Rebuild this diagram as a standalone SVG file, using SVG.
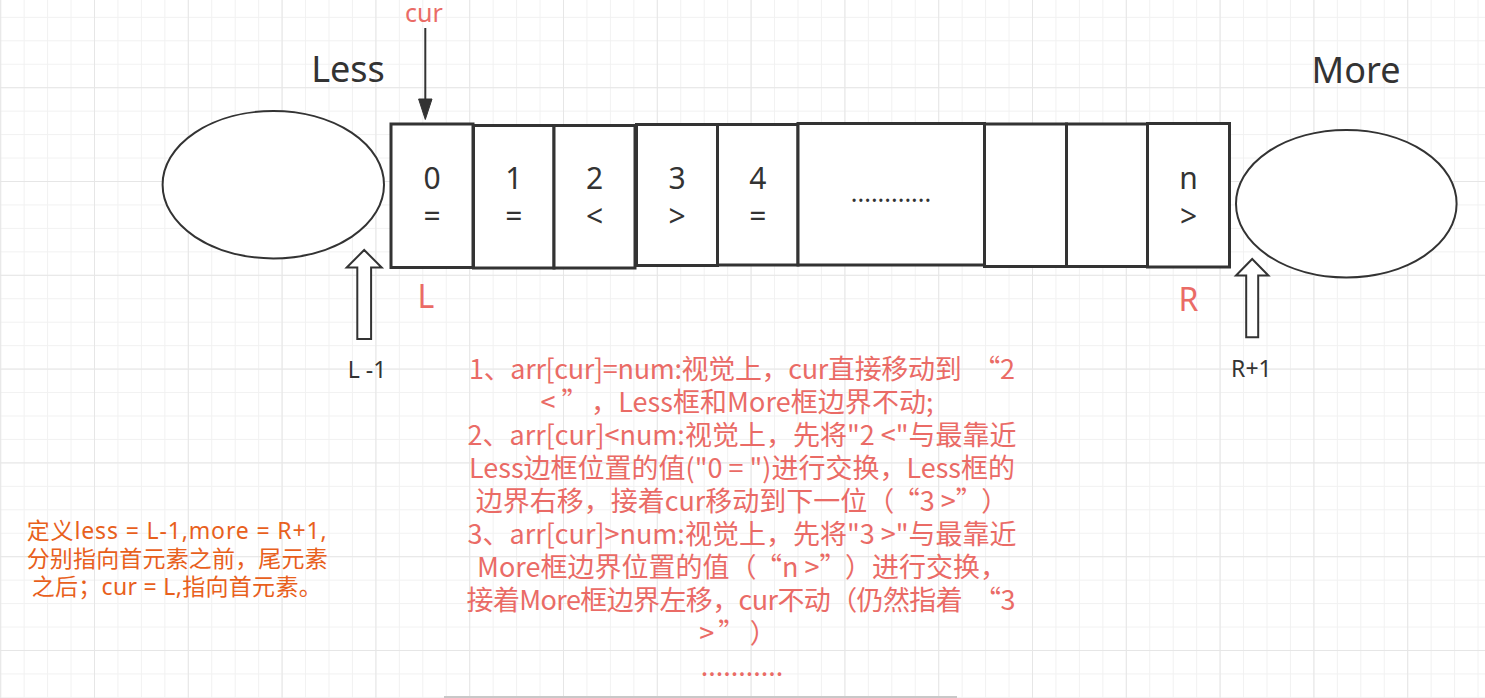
<svg xmlns="http://www.w3.org/2000/svg" width="1485" height="698" viewBox="0 0 1485 698">
<style>
.sh{fill:#ffffff;stroke:#333333;stroke-width:2}
.cell{fill:#ffffff;stroke:#333333;stroke-width:3}
.t{font-family:"Noto Sans","Noto Sans CJK SC",sans-serif;fill:#333333;text-anchor:middle}
.red{font-family:"Noto Sans","Noto Sans CJK SC",sans-serif;fill:#EA6B66;text-anchor:middle}
.cn{font-family:"Noto Sans CJK SC","Noto Sans",sans-serif;fill:#EA6B66;text-anchor:middle;font-size:27px}
.or{font-family:"Noto Sans","Noto Sans CJK SC",sans-serif;fill:#E8601C;font-size:23px}
.cv{font-size:30px}
</style>
<defs>
<pattern id="minor" patternUnits="userSpaceOnUse" x="0.2" y="16.85" width="23.45" height="23.45">
<rect x="0" y="0" width="23.45" height="1" fill="#f1f1f1"/>
<rect x="0" y="0" width="1" height="23.45" fill="#f1f1f1"/>
</pattern>
<pattern id="major" patternUnits="userSpaceOnUse" x="0.2" y="-6.6" width="93.8" height="93.8">
<rect x="0" y="0" width="93.8" height="1" fill="#e6e6e6"/>
<rect x="0" y="0" width="1" height="93.8" fill="#e6e6e6"/>
</pattern>
</defs>
<rect width="1485" height="698" fill="#ffffff"/>
<rect width="1485" height="698" fill="url(#minor)"/>
<rect width="1485" height="698" fill="url(#major)"/>
<line x1="444" y1="697" x2="957" y2="697" stroke="#c8c8c8" stroke-width="2"/>

<g id="less-set">
<ellipse class="sh" cx="273.3" cy="184.7" rx="110.7" ry="73.7"/>
<text class="t" x="348" y="82" font-size="36">Less</text>
</g>
<g id="more-set">
<ellipse class="sh" cx="1346.3" cy="203.7" rx="110.3" ry="73.7"/>
<text class="t" x="1356" y="83" font-size="36">More</text>
</g>

<g id="cell-0">
<rect class="cell" x="391" y="124" width="82" height="143.5"/>
<text class="t cv" x="432" y="189">0</text>
<text class="t cv" x="432" y="227">=</text>
</g>
<g id="cell-1">
<rect class="cell" x="473.5" y="125.5" width="80.5" height="142.5"/>
<text class="t cv" x="513.8" y="189">1</text>
<text class="t cv" x="513.8" y="227">=</text>
</g>
<g id="cell-2">
<rect class="cell" x="554" y="125.5" width="81" height="142.5"/>
<text class="t cv" x="594.5" y="189">2</text>
<text class="t cv" x="594.5" y="227">&lt;</text>
</g>
<g id="cell-3">
<rect class="cell" x="636.5" y="124.5" width="81" height="141"/>
<text class="t cv" x="677" y="189">3</text>
<text class="t cv" x="677" y="227">&gt;</text>
</g>
<g id="cell-4">
<rect class="cell" x="717.5" y="124.5" width="80.5" height="140.5"/>
<text class="t cv" x="757.8" y="189">4</text>
<text class="t cv" x="757.8" y="227">=</text>
</g>
<g id="cell-dots">
<rect class="cell" x="798" y="123.5" width="186.5" height="141.5"/>
<text class="t" x="891" y="202" font-size="25">............</text>
</g>
<g id="cell-6">
<rect class="cell" x="984.5" y="124" width="82" height="142.5"/>
</g>
<g id="cell-7">
<rect class="cell" x="1066.5" y="124" width="81" height="142.5"/>
</g>
<g id="cell-n">
<rect class="cell" x="1147.5" y="123.5" width="82" height="143.5"/>
<text class="t cv" x="1188.5" y="189">n</text>
<text class="t cv" x="1188.5" y="227">&gt;</text>
</g>

<g id="labels">
<text class="red" x="424" y="21.5" font-size="25">cur</text>
<text class="red" x="426" y="308" font-size="32">L</text>
<text class="red" x="1188.5" y="310.5" font-size="32">R</text>
<text class="t" x="367" y="378" font-size="23">L -1</text>
<text class="t" x="1251.4" y="377" font-size="23">R+1</text>
</g>

<g id="connectors">
<line x1="425.3" y1="28" x2="425.3" y2="101" stroke="#333333" stroke-width="2"/>
<polygon points="418.6,99 432,99 425.3,119.5" fill="#333333" stroke="#333333" stroke-width="1"/>
<polygon class="sh" points="364.2,250 381.7,267.5 371.1,267.5 371.1,339 357.3,339 357.3,267.5 346.7,267.5"/>
<polygon class="sh" points="1252.2,259 1268.4,275.5 1258.2,275.5 1258.2,337.3 1246.2,337.3 1246.2,275.5 1236,275.5"/>
</g>

<g id="note-steps">
<text class="cn" x="742" y="378.5" textLength="546" lengthAdjust="spacing">1、arr[cur]=num:视觉上，cur直接移动到<tspan dx="12">“2</tspan></text>
<text class="cn" x="737" y="411.5" textLength="393" lengthAdjust="spacing">&lt;<tspan dx="6">”</tspan><tspan dx="16">，Less框和More框边界不动;</tspan></text>
<text class="cn" x="742" y="444.5">2、arr[cur]&lt;num:视觉上，先将"2 &lt;"与最靠近</text>
<text class="cn" x="742" y="477.5">Less边框位置的值("0 = ")进行交换，Less框的</text>
<text class="cn" x="742" y="510.5">边界右移，接着cur移动到下一位（<tspan dx="12">“3 &gt;”</tspan><tspan dx="12">）</tspan></text>
<text class="cn" x="742" y="543.5">3、arr[cur]&gt;num:视觉上，先将"3 &gt;"与最靠近</text>
<text class="cn" x="742" y="576.5">More框边界位置的值（<tspan dx="12">“n &gt;”</tspan><tspan dx="12">）进行交换，</tspan></text>
<text class="cn" x="741" y="609.5" textLength="549" lengthAdjust="spacing">接着More框边界左移，cur不动（仍然指着<tspan dx="12">“3</tspan></text>
<text class="cn" x="738" y="642.5">&gt;<tspan dx="4">”</tspan><tspan dx="18">）</tspan></text>
<text class="cn" x="742" y="675.5">...........</text>
</g>

<g id="note-def">
<text class="or" x="26.7" y="539" textLength="300" lengthAdjust="spacing">定义less = L-1,more = R+1,</text>
<text class="or" x="26.7" y="567" textLength="301" lengthAdjust="spacing">分别指向首元素之前，尾元素</text>
<text class="or" x="31.7" y="595" textLength="290" lengthAdjust="spacing">之后；cur = L,指向首元素。</text>
</g>
</svg>
